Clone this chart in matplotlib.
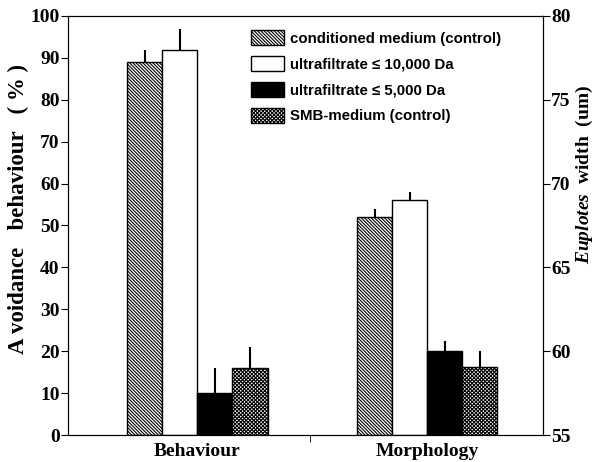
import numpy as np
import matplotlib
matplotlib.use('Agg')
import matplotlib.pyplot as plt
from matplotlib.patches import Patch

plt.rcParams['mathtext.fontset'] = 'custom'
plt.rcParams['mathtext.it'] = 'Liberation Serif:italic:bold'
plt.rcParams['mathtext.rm'] = 'Liberation Serif:bold'
plt.rcParams['hatch.linewidth'] = 0.8

groups = ['Behaviour', 'Morphology']
series = ['conditioned medium (control)', 'ultrafiltrate \u2264 10,000 Da',
          'ultrafiltrate \u2264 5,000 Da', 'SMB-medium (control)']
# avoidance behaviour (%), left axis
behaviour = [89, 92, 10, 16]
behaviour_err = [3, 5, 6, 5]
# Euplotes width (um), right axis
morphology = [68.0, 69.0, 60.0, 59.05]
morphology_err = [0.5, 0.5, 0.6, 0.95]

faces = ['white', 'white', 'black', 'white']
hatches = ['\\' * 10, None, None, 'x' * 9]

fig = plt.figure(figsize=(5.95, 4.62), dpi=100)
ax = fig.add_axes([68/595, 27/462, 475/595, 419/462])
ax2 = ax.twinx()

w = 0.1525
offs = (np.arange(4) - 1.5) * w

for i in range(4):
    ax.bar(0 + offs[i], behaviour[i], w, color=faces[i], edgecolor='black',
           hatch=hatches[i], linewidth=1, zorder=2)
    ax.errorbar(0 + offs[i], behaviour[i], yerr=[[0], [behaviour_err[i]]],
                fmt='none', ecolor='black', elinewidth=1.5, capsize=0, zorder=1)
    ax2.bar(1 + offs[i], morphology[i] - 55, w, bottom=55, color=faces[i],
            edgecolor='black', hatch=hatches[i], linewidth=1, zorder=2)
    ax2.errorbar(1 + offs[i], morphology[i], yerr=[[0], [morphology_err[i]]],
                 fmt='none', ecolor='black', elinewidth=1.5, capsize=0, zorder=1)

ax.set_xlim(-0.564, 1.505)
ax.set_ylim(0, 100)
ax2.set_ylim(55, 80)
ax.set_yticks(np.arange(0, 101, 10))
ax2.set_yticks(np.arange(55, 81, 5))
ax.set_xticks([0, 1])
ax.set_xticklabels(groups)
ax.set_xticks([0.49], minor=True)
ax.tick_params(axis='x', which='major', length=0, pad=6)
ax.tick_params(axis='x', which='minor', length=5, direction='out')

serif_bold = dict(family='Liberation Serif', weight='bold')
for lab in ax.get_xticklabels() + ax.get_yticklabels() + ax2.get_yticklabels():
    lab.set_fontfamily('Liberation Serif')
    lab.set_fontweight('bold')
    lab.set_fontsize(14)
ax.tick_params(axis='y', length=5, direction='out', pad=1)
ax2.tick_params(axis='y', length=5, direction='out', pad=1)

ax.set_ylabel('A voidance   behaviour   ( % )', fontsize=16.5, **serif_bold)
ax.yaxis.set_label_coords(-0.083, 0.54)
ax2.set_ylabel(r'$\it{Euplotes}$  width  (um)', fontsize=14,
               family='Liberation Serif', weight='bold')
ax2.yaxis.set_label_coords(1.066, 0.623)

handles = [Patch(facecolor=faces[i], edgecolor='black', hatch=hatches[i]) for i in range(4)]
fig.legend(handles, series, loc='upper left', bbox_to_anchor=(243/595, 1 - 23/462),
           frameon=False, borderpad=0, handlelength=2.2, handleheight=1.15,
           handletextpad=0.4, labelspacing=0.68,
           prop=dict(family='Liberation Sans', weight='bold', size=10.8))

fig.savefig('out.png', dpi=100)
